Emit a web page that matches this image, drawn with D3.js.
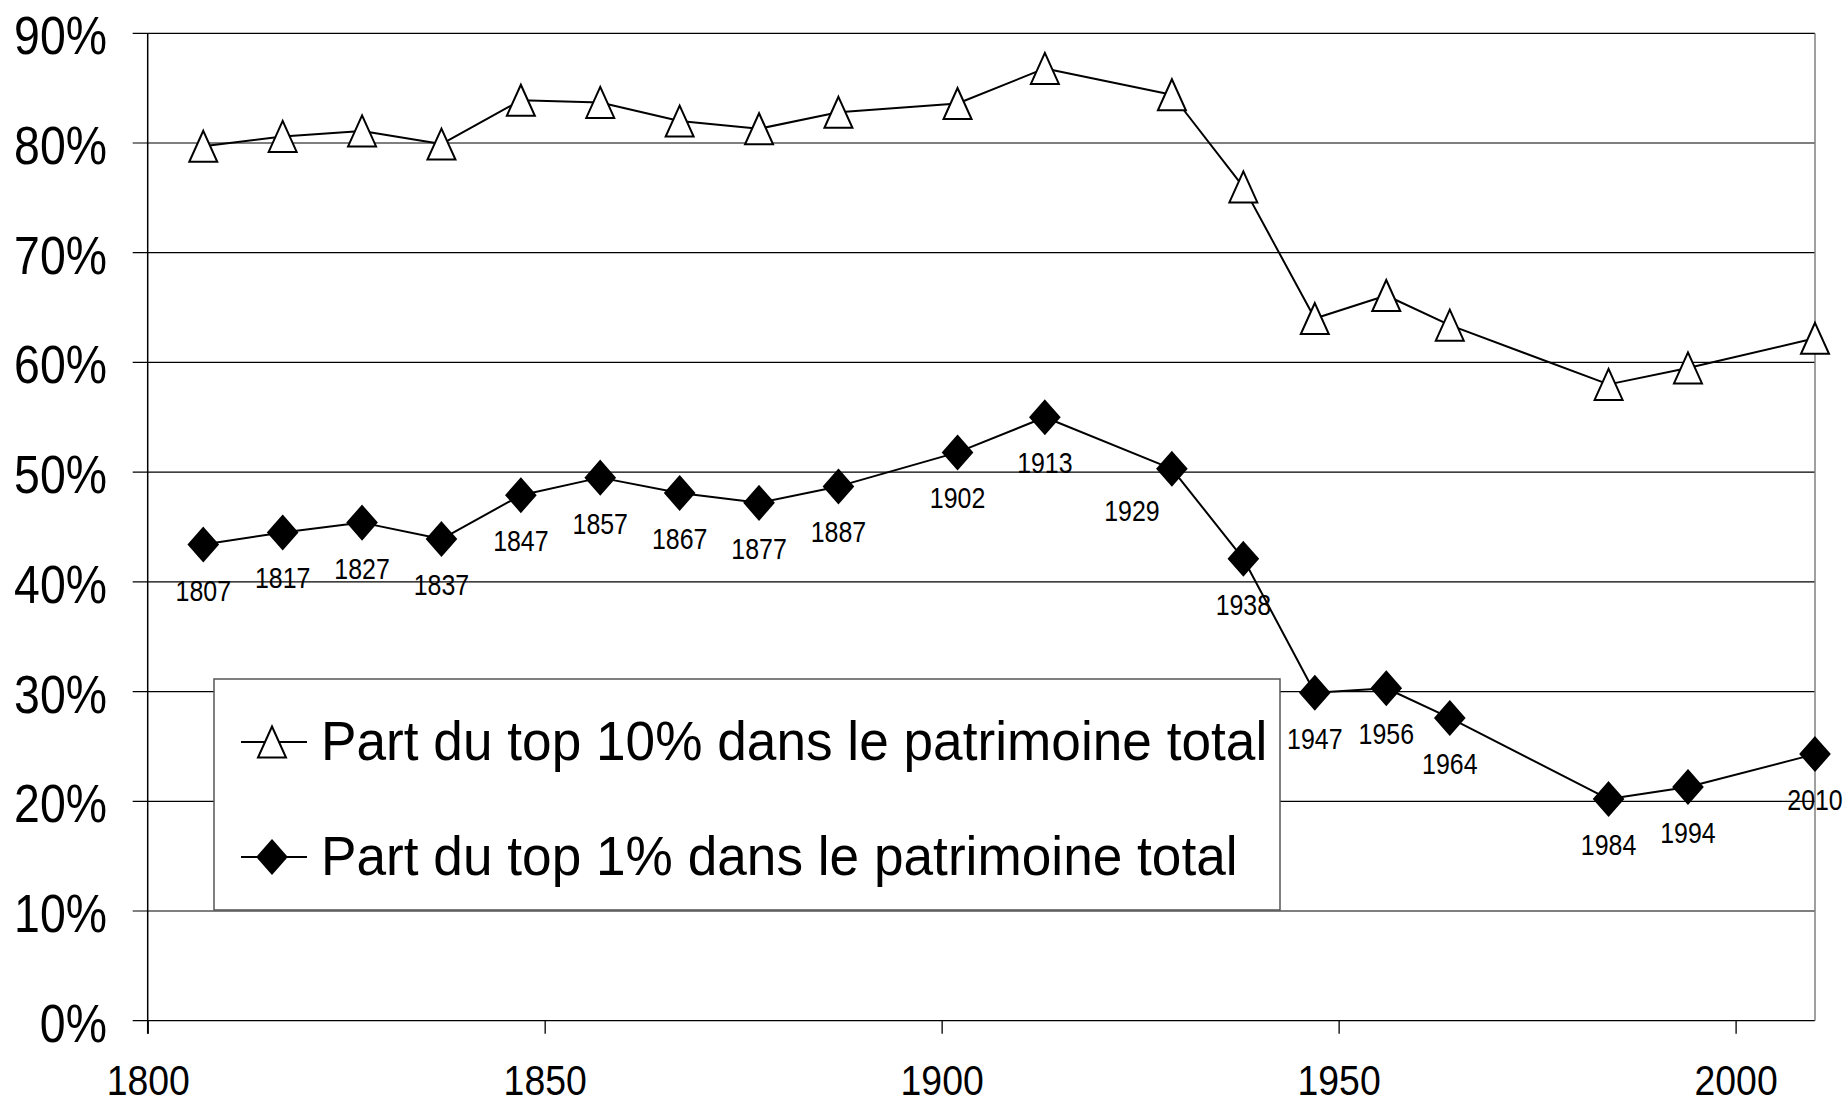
<!DOCTYPE html>
<html>
<head>
<meta charset="utf-8">
<script src="https://cdn.jsdelivr.net/npm/d3@7"></script>
<style>
  body { margin: 0; background: #fff; }
  svg { display: block; font-family: "Liberation Sans", Arial, sans-serif; }
</style>
</head>
<body>
<svg id="chart" width="1845" height="1104"></svg>
<script>
// data (shares in %)
var years = [1807, 1817, 1827, 1837, 1847, 1857, 1867, 1877, 1887, 1902, 1913, 1929, 1938, 1947, 1956, 1964, 1984, 1994, 2010];
var top10 = [79.7, 80.6, 81.1, 79.9, 83.9, 83.7, 82.0, 81.3, 82.8, 83.6, 86.8, 84.4, 76.0, 64.0, 66.1, 63.4, 58.0, 59.5, 62.2];
var top1 = [43.4, 44.5, 45.4, 43.9, 47.9, 49.5, 48.1, 47.2, 48.7, 51.8, 55.0, 50.3, 42.1, 29.9, 30.3, 27.6, 20.2, 21.3, 24.3];
var yTicks = [0, 10, 20, 30, 40, 50, 60, 70, 80, 90];
var xTicks = [1800, 1850, 1900, 1950, 2000];
var legendLabels = ["Part du top 10% dans le patrimoine total", "Part du top 1% dans le patrimoine total"];

(function(){
  var svg, x, y, line, g,
    left = 147.7, right = 1815, top = 33.3, bottom = 1020.7;

  var triPath = "M0,-15.5L14,15.5L-14,15.5Z",
    diaPath = "M0,-16.5L14.5,0L0,16.5L-14.5,0Z";

  function init(){
    svg = d3.select("#chart");
    x = d3.scaleLinear().domain([1800, 2010]).range([left, right]);
    y = d3.scaleLinear().domain([0, 90]).range([bottom, top]);
    line = d3.line()
      .x(function(d) { return x(d[0]); })
      .y(function(d) { return y(d[1]); });
    g = svg.append("g");

    drawGrid();
    drawAxis();
    drawLegend();
    drawSeries(top10, triPath, "#fff");
    drawSeries(top1, diaPath, "#000");
    drawLabels();
  }

  function drawGrid(){
    g.selectAll(".grid")
      .data(yTicks)
      .enter().append("line")
        .attr("class", "grid")
        .attr("x1", left - 15)
        .attr("x2", right)
        .attr("y1", function(d) { return y(d); })
        .attr("y2", function(d) { return y(d); })
        .attr("stroke", "#000")
        .attr("stroke-width", 1.2);

    // right border of the plot area
    g.append("line")
      .attr("x1", right).attr("x2", right)
      .attr("y1", top).attr("y2", bottom)
      .attr("stroke", "#808080")
      .attr("stroke-width", 1.5);
  }

  function drawAxis(){
    // y axis line
    g.append("line")
      .attr("x1", left).attr("x2", left)
      .attr("y1", top).attr("y2", bottom + 13)
      .attr("stroke", "#000")
      .attr("stroke-width", 1.5);

    g.selectAll(".ylab")
      .data(yTicks)
      .enter().append("text")
        .attr("class", "ylab")
        .attr("text-anchor", "end")
        .attr("font-size", 54)
        .attr("transform", function(d) { return "translate(107," + (y(d) + 21) + ") scale(0.86,1)"; })
        .text(function(d) { return d + "%"; });

    var xAxis = d3.axisBottom(x)
      .tickValues(xTicks)
      .tickSize(13)
      .tickFormat(d3.format("d"));

    var ax = g.append("g")
      .attr("transform", "translate(0," + bottom + ")")
      .call(xAxis);
    ax.select(".domain").remove();
    ax.selectAll(".tick line").attr("stroke", "#000").attr("stroke-width", 1.3);
    ax.selectAll(".tick text")
      .attr("y", 74)
      .attr("dy", 0)
      .attr("fill", "#000")
      .attr("font-size", 42)
      .attr("font-family", "Liberation Sans, Arial, sans-serif")
      .attr("transform", "scale(0.89,1)");
  }

  function drawLegend(){
    var lg = g.append("g");
    lg.append("rect")
      .attr("x", 214).attr("y", 679)
      .attr("width", 1066).attr("height", 231)
      .attr("fill", "#fff")
      .attr("stroke", "#555")
      .attr("stroke-width", 1.5);

    var rows = lg.selectAll(".row")
      .data(legendLabels)
      .enter().append("g")
        .attr("class", "row")
        .attr("transform", function(d, i) { return "translate(0," + (i * 115) + ")"; });

    rows.append("line")
      .attr("x1", 241).attr("x2", 307)
      .attr("y1", 742).attr("y2", 742)
      .attr("stroke", "#000").attr("stroke-width", 2);
    rows.append("path")
      .attr("transform", "translate(272,742)")
      .attr("d", function(d, i) { return i == 0 ? triPath : diaPath; })
      .attr("fill", function(d, i) { return i == 0 ? "#fff" : "#000"; })
      .attr("stroke", "#000")
      .attr("stroke-width", 2);
    rows.append("text")
      .attr("transform", "translate(321,760) scale(0.95,1)")
      .attr("font-size", 56)
      .text(function(d) { return d; });
  }

  function drawSeries(values, symbol, fill){
    var pts = years.map(function(yr, i) { return [yr, values[i]]; });

    g.append("path")
      .datum(pts)
      .attr("fill", "none")
      .attr("stroke", "#000")
      .attr("stroke-width", 2)
      .attr("stroke-linejoin", "round")
      .attr("d", line);

    g.selectAll(null)
      .data(pts)
      .enter().append("path")
        .attr("transform", function(d) { return "translate(" + x(d[0]) + "," + y(d[1]) + ")"; })
        .attr("d", symbol)
        .attr("fill", fill)
        .attr("stroke", "#000")
        .attr("stroke-width", 2);
  }

  function drawLabels(){
    // year labels under the top 1% markers; 1929 sits a bit to the left
    g.selectAll(".yr")
      .data(years)
      .enter().append("text")
        .attr("class", "yr")
        .attr("text-anchor", "middle")
        .attr("font-size", 29)
        .attr("transform", function(d, i) {
          var dx = d == 1929 ? -40 : 0,
            dy = d == 1929 ? 52 : 56;
          return "translate(" + (x(d) + dx) + "," + (y(top1[i]) + dy) + ") scale(0.86,1)";
        })
        .text(function(d) { return d; });
  }

  init();
})();
</script>
</body>
</html>
